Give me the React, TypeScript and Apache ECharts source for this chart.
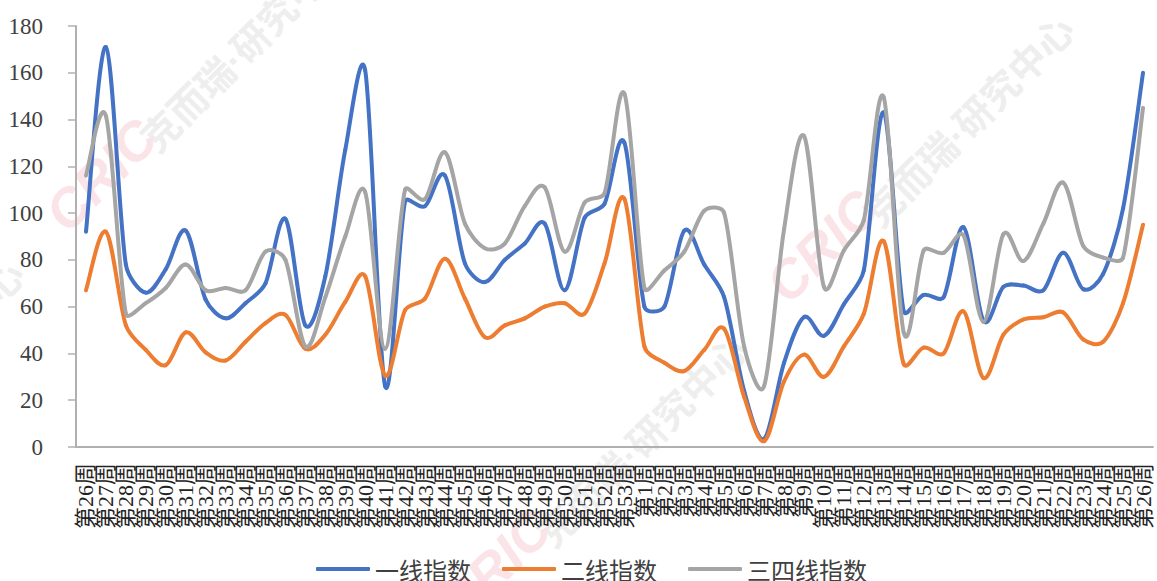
import React, { useEffect, useRef } from 'react';
import * as echarts from 'echarts';

const weeks = [
  26, 27, 28, 29, 30, 31, 32, 33, 34, 35, 36, 37, 38, 39, 40, 41, 42, 43, 44, 45, 46, 47, 48, 49, 50, 51, 52, 53,
  1, 2, 3, 4, 5, 6, 7, 8, 9, 10, 11, 12, 13, 14, 15, 16, 17, 18, 19, 20, 21, 22, 23, 24, 25, 26,
];
const categories = weeks.map((w) => `第${w}周`);

const tier1 = [
  92, 171, 78, 66, 76, 92.5, 63, 55, 61.5, 70, 97.5, 52, 73, 127, 161, 26, 105, 103, 116, 78.5, 70.5, 80, 87, 95.5, 67, 98, 104, 130,
  60, 60, 92.5, 78, 64, 24, 3.5, 36, 55.5, 47.5, 61, 75.5, 143, 58, 65, 64, 94, 54, 68.5, 69, 67, 83, 67.5, 74, 102, 160,
];
const tier2 = [
  67, 92, 52, 41.5, 35, 49, 40.5, 37, 45, 53, 56.5, 42, 48, 62, 73, 30.5, 58.5, 63.5, 80.5, 63.5, 47, 52, 55, 60, 61.5, 57, 78.5, 106,
  43, 36, 32.5, 41.5, 50.5, 21.5, 2.5, 28, 39.5, 30, 43, 57, 88, 35.5, 42.5, 40, 58, 29.5, 48, 54.5, 55.5, 57.5, 46, 45, 61.5, 95,
];
const tier34 = [
  116, 141.5, 57, 61.5, 68, 78, 67, 68, 67, 83.5, 80, 43, 64, 90, 109, 42, 110, 106, 126, 95.5, 85, 87, 103, 111, 83.5, 104.5, 108.5, 151,
  68, 75.5, 83.5, 101, 100, 43, 26, 93, 133, 68.5, 84, 97, 149.5, 49, 84, 83, 90.5, 53.5, 91, 79.5, 95.5, 113, 86, 81, 81, 145,
];

const watermarkSpots = [
  { text: [247, 47], logo: [101, 175] },
  { text: [970, 122], logo: [822, 246] },
  { text: [643, 442], logo: [495, 566] },
  { text: [-80, 367], logo: [-226, 495] },
];

const serif = '"Liberation Serif", "Noto Sans CJK SC", serif';
const sans = '"Noto Sans CJK SC", sans-serif';

// spline like the office smoothed line: tangent from the neighbours, handle capped by the segment it sits on
const handle = (prev: number[], cur: number[], next: number[], seg: number[]) => {
  const dx = next[0] - prev[0];
  const dy = next[1] - prev[1];
  const len = Math.hypot(dx, dy) || 1;
  const s = Math.min(len / 6, Math.hypot(seg[0] - cur[0], seg[1] - cur[1]) * 0.35);
  const dir = seg === next ? 1 : -1;
  return [cur[0] + (dir * dx * s) / len, cur[1] + (dir * dy * s) / len];
};

const smoothSeries = (name: string, values: number[], color: string) => ({
  name,
  type: 'custom',
  itemStyle: { color },
  data: values.map((v, i) => [i, v]),
  encode: { x: 0, y: 1 },
  renderItem: (params: any, api: any) => {
    const i = params.dataIndex;
    if (i === 0) return null;
    const at = (k: number) => {
      const j = Math.max(0, Math.min(values.length - 1, k));
      return api.coord([j, values[j]]);
    };
    const p0 = at(i - 2);
    const p1 = at(i - 1);
    const p2 = at(i);
    const p3 = at(i + 1);
    const c1 = handle(p0, p1, p2, p2);
    const c2 = handle(p1, p2, p3, p1);
    return {
      type: 'bezierCurve',
      shape: { x1: p1[0], y1: p1[1], cpx1: c1[0], cpy1: c1[1], cpx2: c2[0], cpy2: c2[1], x2: p2[0], y2: p2[1] },
      style: { stroke: color, fill: 'none', lineWidth: 4, lineCap: 'round' },
    };
  },
});

const App: React.FC = () => {
  const chartRef = useRef<HTMLDivElement>(null);

  useEffect(() => {
    const chart = echarts.init(chartRef.current!, undefined, { renderer: 'svg' });

    chart.setOption({
      animation: false,
      backgroundColor: '#fff',
      grid: { left: 76, right: 4, top: 26, bottom: 134 },
      legend: {
        left: 311,
        top: 552,
        itemWidth: 54,
        itemHeight: 4,
        itemGap: 31,
        icon: 'roundRect',
        textStyle: { fontFamily: sans, fontSize: 24, color: '#404040' },
        data: ['一线指数', '二线指数', '三四线指数'],
      },
      xAxis: {
        type: 'category',
        data: categories,
        axisLine: { lineStyle: { color: '#b0b0b0', width: 2 } },
        axisTick: { alignWithLabel: false, length: 6, lineStyle: { color: '#b0b0b0', width: 1.5 } },
        axisLabel: {
          interval: 0,
          rotate: 90,
          margin: 16,
          padding: [10, 0, 0, 0],
          fontFamily: serif,
          fontSize: 22,
          color: '#222',
        },
      },
      yAxis: {
        type: 'value',
        min: 0,
        max: 180,
        interval: 20,
        splitLine: { show: false },
        axisLine: { show: true, lineStyle: { color: '#b0b0b0', width: 2 } },
        axisTick: { show: true, length: 8, lineStyle: { color: '#b0b0b0', width: 1.5 } },
        axisLabel: { margin: 33, fontFamily: serif, fontSize: 23, color: '#404040' },
      },
      graphic: watermarkSpots.flatMap((s) => [
        {
          type: 'text',
          x: s.text[0],
          y: s.text[1],
          rotation: Math.PI / 4,
          silent: true,
          style: {
            text: '克而瑞·研究中心',
            font: `bold 38px "Liberation Sans", ${sans}`,
            fill: '#eeeeee',
            align: 'center',
            verticalAlign: 'middle',
          },
        },
        {
          type: 'text',
          x: s.logo[0],
          y: s.logo[1],
          rotation: Math.PI / 4,
          silent: true,
          style: {
            text: 'CRIC',
            font: 'italic bold 54px "Liberation Sans", sans-serif',
            fill: '#fbe4e8',
            align: 'center',
            verticalAlign: 'middle',
          },
        },
      ]),
      series: [
        smoothSeries('一线指数', tier1, '#4472C4'),
        smoothSeries('二线指数', tier2, '#ED7D31'),
        smoothSeries('三四线指数', tier34, '#A5A5A5'),
      ],
    });

    return () => {
      chart.dispose();
    };
  }, []);

  return <div ref={chartRef} style={{ position: 'absolute', left: 0, top: 0, width: 1157, height: 581 }}></div>;
};

export default App;
